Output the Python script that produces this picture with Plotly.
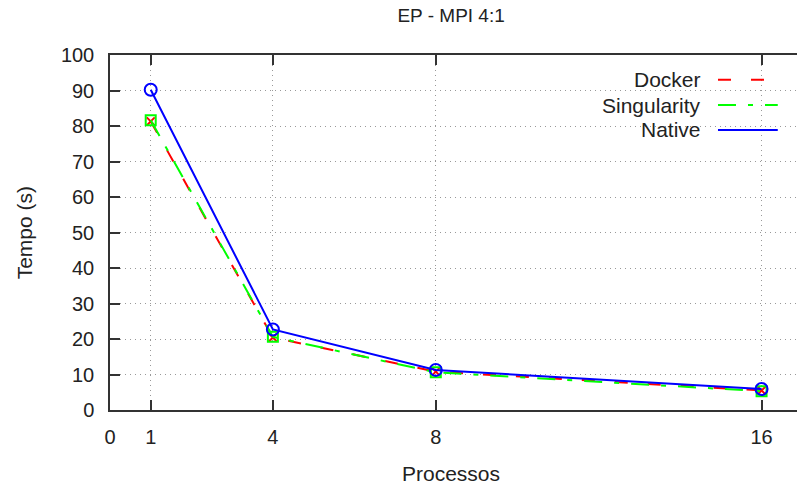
import plotly.graph_objects as go

processos = [1, 4, 8, 16]
docker = [81.3, 20.4, 10.8, 5.5]
singularity = [81.6, 20.6, 10.6, 5.3]
native = [90.2, 22.7, 11.3, 5.9]

x_ticks = [0, 1, 4, 8, 16]
y_ticks = list(range(0, 101, 10))

series = [
    ("Docker", docker, "#ff0000", "13px,20px", "x-thin", 8),
    ("Singularity", singularity, "#00ff00", "18px,12px,5px,12px", "square-open", 10),
    ("Native", native, "#0000ff", "solid", "circle-open", 12),
]

font = "Liberation Sans, Arial, sans-serif"
fig = go.Figure()
for name, vals, color, dash, sym, size in series:
    fig.add_trace(go.Scatter(
        x=processos, y=vals, name=name, mode="lines+markers",
        line=dict(color=color, width=2, dash=dash),
        marker=dict(symbol=sym, size=size, color=color, line=dict(color=color, width=2)),
        showlegend=False,
    ))

# legend, gnuplot style (label on the left, sample on the right)
leg_y = [0.930, 0.859, 0.789]
for (name, vals, color, dash, sym, size), ly in zip(series, leg_y):
    fig.add_annotation(x=0.863, y=ly, xref="paper", yref="paper", text=name,
                       showarrow=False, xanchor="right", yanchor="middle",
                       font=dict(size=21, color="#222"))
    fig.add_shape(type="line", xref="paper", yref="paper", x0=0.885, x1=0.972,
                  y0=ly, y1=ly, line=dict(color=color, width=2, dash=dash))

fig.add_annotation(text="Tempo (s)", x=-0.124, y=0.5, xref="paper", yref="paper",
                   showarrow=False, textangle=-90, xanchor="center", yanchor="middle",
                   font=dict(size=21, color="#222"))
fig.add_annotation(text="Processos", x=0.496, y=-0.18, xref="paper", yref="paper",
                   showarrow=False, xanchor="center", yanchor="middle",
                   font=dict(size=21, color="#222"))

fig.update_layout(
    width=797, height=488,
    margin=dict(l=110, r=0, t=55, b=78),
    paper_bgcolor="white", plot_bgcolor="white",
    font=dict(family=font, size=20, color="#222"),
    title=dict(text="EP - MPI 4:1", x=0.566, xanchor="center", y=0.969, yanchor="middle",
               font=dict(size=19)),
)
fig.update_xaxes(
    range=[0, 16.87], tickvals=x_ticks, ticktext=[str(v) for v in x_ticks],
    ticks="inside", ticklen=10, tickwidth=1.5, tickcolor="#333",
    showline=True, linecolor="#333", linewidth=1.5, mirror="ticks",
    showgrid=True, gridcolor="#999999", griddash="1px,4px", gridwidth=1,
    zeroline=False, ticklabelstandoff=8,
)
fig.update_yaxes(
    range=[0, 100], tickvals=y_ticks,
    ticks="inside", ticklen=10, tickwidth=1.5, tickcolor="#333",
    showline=True, linecolor="#333", linewidth=1.5,
    showgrid=True, gridcolor="#999999", griddash="1px,4px", gridwidth=1,
    zeroline=False, ticklabelstandoff=10,
)

fig.write_html("out.html", config={"displayModeBar": False},
               post_script="document.body.style.margin='0';")
